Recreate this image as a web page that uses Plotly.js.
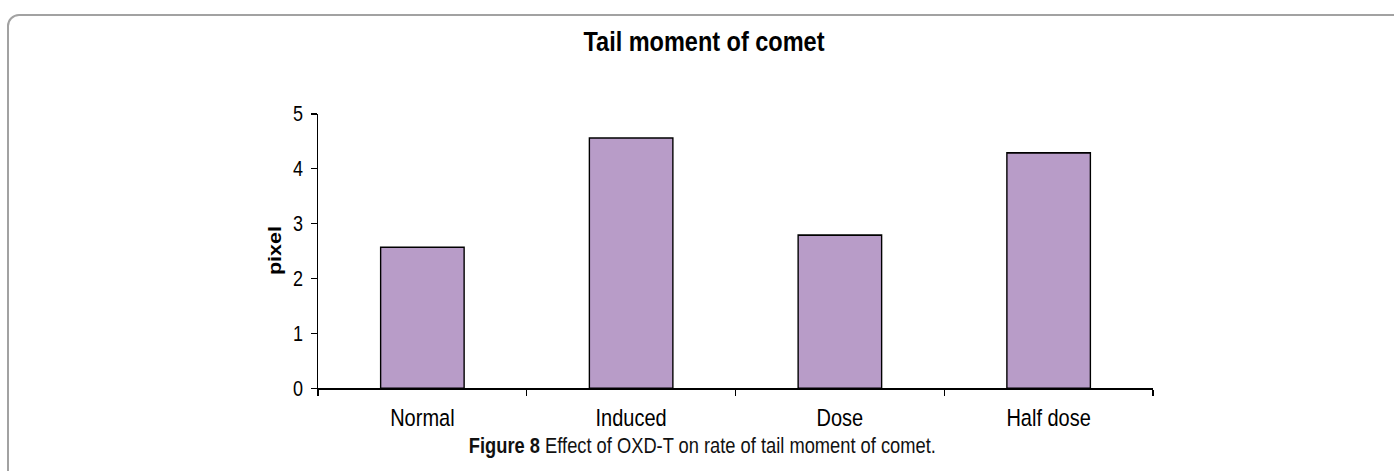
<!DOCTYPE html>
<html>
<head>
<meta charset="utf-8">
<script src="https://cdn.plot.ly/plotly-3.0.1.min.js"></script>
<style>
  html, body { margin: 0; padding: 0; background: #fff; overflow: hidden; }
  #wrap { position: relative; width: 1394px; height: 471px; overflow: hidden; }
  #frame { position: absolute; left: 7px; top: 14px; width: 1500px; height: 600px;
           border: 2px solid #a2a2a2; border-radius: 12px; box-sizing: border-box; }
  #chart { position: absolute; left: 0; top: 0; width: 1394px; height: 393px;
           transform: scaleY(1.1985); transform-origin: 0 0; }
</style>
</head>
<body>
<div id="wrap">
  <div id="frame"></div>
  <div id="chart"></div>
</div>
<script>
const categories = ["Normal", "Induced", "Dose", "Half dose"];
const tailMoment = [2.57, 4.56, 2.79, 4.29];
const yTicks = [0, 1, 2, 3, 4, 5];
const chartTitle = "Tail moment of comet";
const yTitle = "pixel";
const caption = "<b>Figure 8</b> Effect of OXD-T on rate of tail moment of comet.";

const font = "'Liberation Sans', Arial, sans-serif";
const H = 393;

const trace = {
  type: "bar",
  x: categories,
  y: tailMoment,
  width: 0.4,
  marker: { color: "#b89cc8", line: { color: "#000", width: 1.4 } },
  hoverinfo: "x+y"
};

const layout = {
  width: 1394, height: H,
  margin: { l: 318, r: 241, t: 95, b: 69 },
  paper_bgcolor: "rgba(0,0,0,0)",
  plot_bgcolor: "rgba(0,0,0,0)",
  showlegend: false,
  title: {
    text: "<b>" + chartTitle + "</b>",
    font: { family: font, size: 23.5, color: "#000" },
    x: 0.505, xanchor: "center", xref: "container",
    y: 1 - 34 / H, yanchor: "middle", yref: "container"
  },
  xaxis: {
    type: "category",
    range: [-0.5, 3.5],
    showline: true, linecolor: "#000", linewidth: 1.4,
    ticks: "outside", ticklen: 5, tickwidth: 1.4, tickcolor: "#000",
    tickson: "boundaries",
    showgrid: false, zeroline: false,
    tickfont: { family: font, size: 20, color: "#000" },
    ticklabelstandoff: 6,
    fixedrange: true
  },
  yaxis: {
    range: [0, 5],
    tickvals: yTicks,
    showline: true, linecolor: "#000", linewidth: 1.4,
    ticks: "outside", ticklen: 6, tickwidth: 1.2, tickcolor: "#000",
    showgrid: false, zeroline: false,
    tickfont: { family: font, size: 18, color: "#000" },
    ticklabelstandoff: 4,
    fixedrange: true
  },
  annotations: [
    {
      text: "<b>" + yTitle + "</b>",
      xref: "paper", yref: "paper",
      x: (275 - 318) / 835, y: 0.5,
      xanchor: "center", yanchor: "middle",
      textangle: -90, showarrow: false,
      font: { family: font, size: 18, color: "#000" }
    },
    {
      text: caption,
      xref: "paper", yref: "paper",
      x: (702 - 318) / 835, y: -0.208,
      xanchor: "center", yanchor: "middle",
      showarrow: false,
      font: { family: font, size: 18.3, color: "#111" }
    }
  ]
};

Plotly.newPlot("chart", [trace], layout, { displayModeBar: false, staticPlot: true });
</script>
</body>
</html>
